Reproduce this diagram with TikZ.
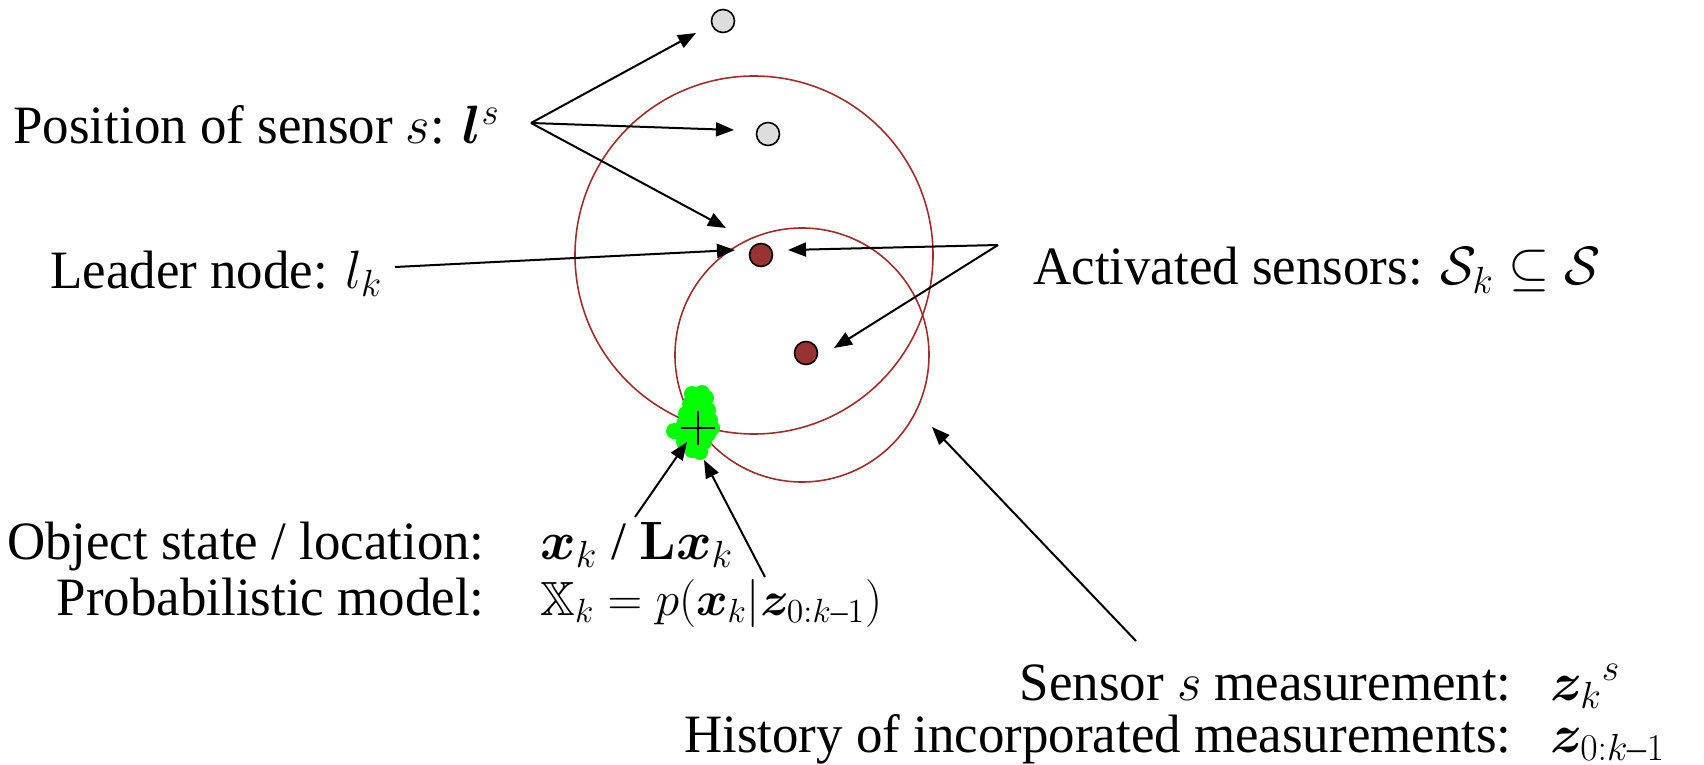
\documentclass[tikz,border=0pt]{standalone}
\usepackage{fix-cm}
\usepackage{amsmath}
\usepackage{amssymb}
\usepackage{bm}
\usepackage{graphicx}
\usepackage[no-math]{fontspec}
\setmainfont{Liberation Serif}
\usetikzlibrary{arrows.meta}
\definecolor{ringred}{RGB}{160,45,45}
\definecolor{dotred}{RGB}{153,51,51}
\definecolor{dotgray}{RGB}{221,221,221}
\definecolor{blobgreen}{RGB}{0,255,0}
\newcommand{\narrowtxt}[1]{\scalebox{0.98}[1]{#1}}
\newcommand{\kmo}{0:k\text{–}1}
\tikzset{
  lbl/.style={font=\fontsize{27}{32}\selectfont, inner sep=0pt},
  smallmath/.style={font=\fontsize{24}{29}\selectfont, inner sep=0pt},
  arr/.style={-{Triangle[length=9pt,width=7pt]}, line width=1pt},
  ring/.style={draw=ringred, line width=0.8pt},
  gdot/.style={circle, draw=black, fill=dotgray, line width=0.8pt, minimum size=11.5pt, inner sep=0pt},
  rdot/.style={circle, draw=black, fill=dotred, line width=0.8pt, minimum size=11.5pt, inner sep=0pt},
  blob/.style={fill=blobgreen, draw=none}
}
\begin{document}
\begin{tikzpicture}[x=0.5pt,y=-0.5pt]
\useasboundingbox (0,0) rectangle (1704,765);
% rings
\draw[ring] (754,255) circle[radius=89.5pt];
\draw[ring] (802,355) circle[radius=63.5pt];
% green blob
\foreach \p in {(692,394),(702,393),(706,398),(690,404),(700,404),(708,410),(686,414),(696,414),(710,420),(684,424),(694,424),(704,424),(712,428),(678,432),(688,434),(698,434),(708,434),(684,442),(694,442),(704,442),(692,450),(700,452),(674,431)}
  \fill[blob] \p circle[radius=4pt];
\draw[line width=1pt] (681,428) -- (715,428) (698,411) -- (698,445);
% dots
\node[gdot] (g1) at (723,21) {};
\node[gdot] (g2) at (768,134) {};
\node[rdot] (r1) at (761,255) {};
\node[rdot] (r2) at (806,353) {};
% labels
\node[lbl, anchor=base west] (pos) at (13,144) {\narrowtxt{Position of sensor $s$: $\bm{l}^s$}};
\node[lbl, anchor=base west] (lead) at (50,288) {\narrowtxt{Leader node: $l_k$}};
\node[lbl, anchor=base west] (act) at (1033,285) {\narrowtxt{Activated sensors: $\mathcal{S}_k\subseteq\mathcal{S}$}};
\node[lbl, anchor=base east] (obj) at (485,559) {\narrowtxt{Object state / location:}};
\node[lbl, anchor=base west] (objm) at (540,559) {$\bm{x}_k$ / $\mathbf{L}\bm{x}_k$};
\node[lbl, anchor=base east] (prob) at (485,615) {\narrowtxt{Probabilistic model:}};
\node[smallmath, anchor=base west] (probm) at (540,615) {$\mathbb{X}_k=p(\bm{x}_k|\bm{z}_{\kmo})$};
\node[lbl, anchor=base east] (sens) at (1512,700) {\narrowtxt{Sensor $s$ measurement:}};
\node[lbl, anchor=base west] (sensm) at (1550,700) {${\bm{z}_k}^s$};
\node[lbl, anchor=base east] (hist) at (1512,752) {\narrowtxt{History of incorporated measurements:}};
\node[lbl, anchor=base west] (histm) at (1550,752) {$\bm{z}_{\kmo}$};
% connector coordinates
\coordinate (possrc) at (531,123);
\coordinate (t1) at (696,33);
\coordinate (t2) at (734,130);
\coordinate (t3) at (726,228);
\coordinate (leadsrc) at (395,267);
\coordinate (t4) at (735,250);
\coordinate (actsrc) at (998,245);
\coordinate (a1) at (788,250);
\coordinate (a2) at (834,348);
\coordinate (objsrc) at (635,517);
\coordinate (o1) at (687,442);
\coordinate (probsrc) at (765,577);
\coordinate (p1) at (704,460);
\coordinate (senssrc) at (1136,641);
\coordinate (s1) at (932,427);
% arrows
\draw[arr] (possrc) -- (t1);
\draw[arr] (possrc) -- (t2);
\draw[arr] (possrc) -- (t3);
\draw[arr] (leadsrc) -- (t4);
\draw[arr] (actsrc) -- (a1);
\draw[arr] (actsrc) -- (a2);
\draw[arr] (objsrc) -- (o1);
\draw[arr] (probsrc) -- (p1);
\draw[arr] (senssrc) -- (s1);
\end{tikzpicture}
\end{document}
